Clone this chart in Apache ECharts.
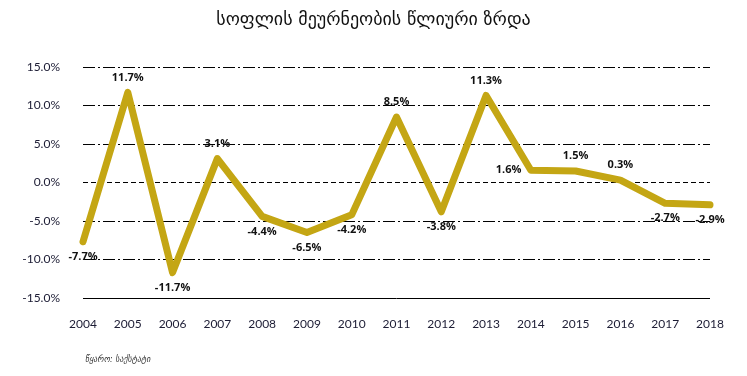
<!DOCTYPE html>
<html><head><meta charset="utf-8">
<script src="https://cdn.jsdelivr.net/npm/echarts@6/dist/echarts.min.js"></script>
<style>html,body{margin:0;padding:0;background:#fff}#c{width:747px;height:376px}</style>
</head><body><div id="c"></div>
<script>
const years = ['2004','2005','2006','2007','2008','2009','2010','2011','2012','2013','2014','2015','2016','2017','2018'];
const growth = [-7.7, 11.7, -11.7, 3.1, -4.4, -6.5, -4.2, 8.5, -3.8, 11.3, 1.6, 1.5, 0.3, -2.7, -2.9];
const labelPos = ['bottom','top','bottom','top','bottom','bottom','bottom','top','bottom','top','left','top','top','bottom','bottom'];
const title = 'სოფლის მეურნეობის წლიური ზრდა';
const source = 'წყარო: საქსტატი';

const chart = echarts.init(document.getElementById('c'));
chart.setOption({
  animation:false,
  title:[{text:title,left:'center',top:6,textStyle:{fontFamily:'DejaVu Sans',fontSize:18,fontWeight:'normal',color:'#111'}},
         {text:source,left:80,top:351,textStyle:{fontFamily:'DejaVu Sans',fontSize:8,fontStyle:'italic',fontWeight:'normal',color:'#333'}}],
  grid:{left:83,right:37,top:67,bottom:78},
  xAxis:{type:'category',data:years,boundaryGap:false,
    axisLine:{show:false},axisTick:{show:false},
    axisLabel:{margin:20,fontFamily:'Lato',fontSize:12,color:'#1c1c34'}},
  yAxis:{type:'value',min:-15,max:15,interval:5,
    axisLabel:{margin:23,fontFamily:'Lato',fontSize:12,color:'#1c1c34',formatter:v=>v.toFixed(1)+'%'},
    splitLine:{lineStyle:{color:'#000',width:1.2,type:[12,3,2,3]}}},
  series:[
    {type:'line',data:[],z:1,silent:true,
     markLine:{symbol:'none',silent:true,label:{show:false},
       data:[{yAxis:0,lineStyle:{color:'#fff',width:3,type:'solid'}},
             {yAxis:0,lineStyle:{color:'#000',width:1.2,type:[5,3]}},
             {yAxis:-15,lineStyle:{color:'#000',width:1,type:'solid'}}]}},
    {type:'line',z:5,data:growth.map((v,i)=>({value:v,label:{position:labelPos[i]}})),
     showSymbol:true,symbol:'circle',symbolSize:1,itemStyle:{color:'#C4A614'},
     lineStyle:{color:'#C4A614',width:7,cap:'round',join:'round'},
     label:{show:true,formatter:p=>p.value.toFixed(1)+'%',fontFamily:'Open Sans',fontWeight:'bold',fontSize:11,color:'#111',distance:9}}
  ]
});
</script></body></html>
